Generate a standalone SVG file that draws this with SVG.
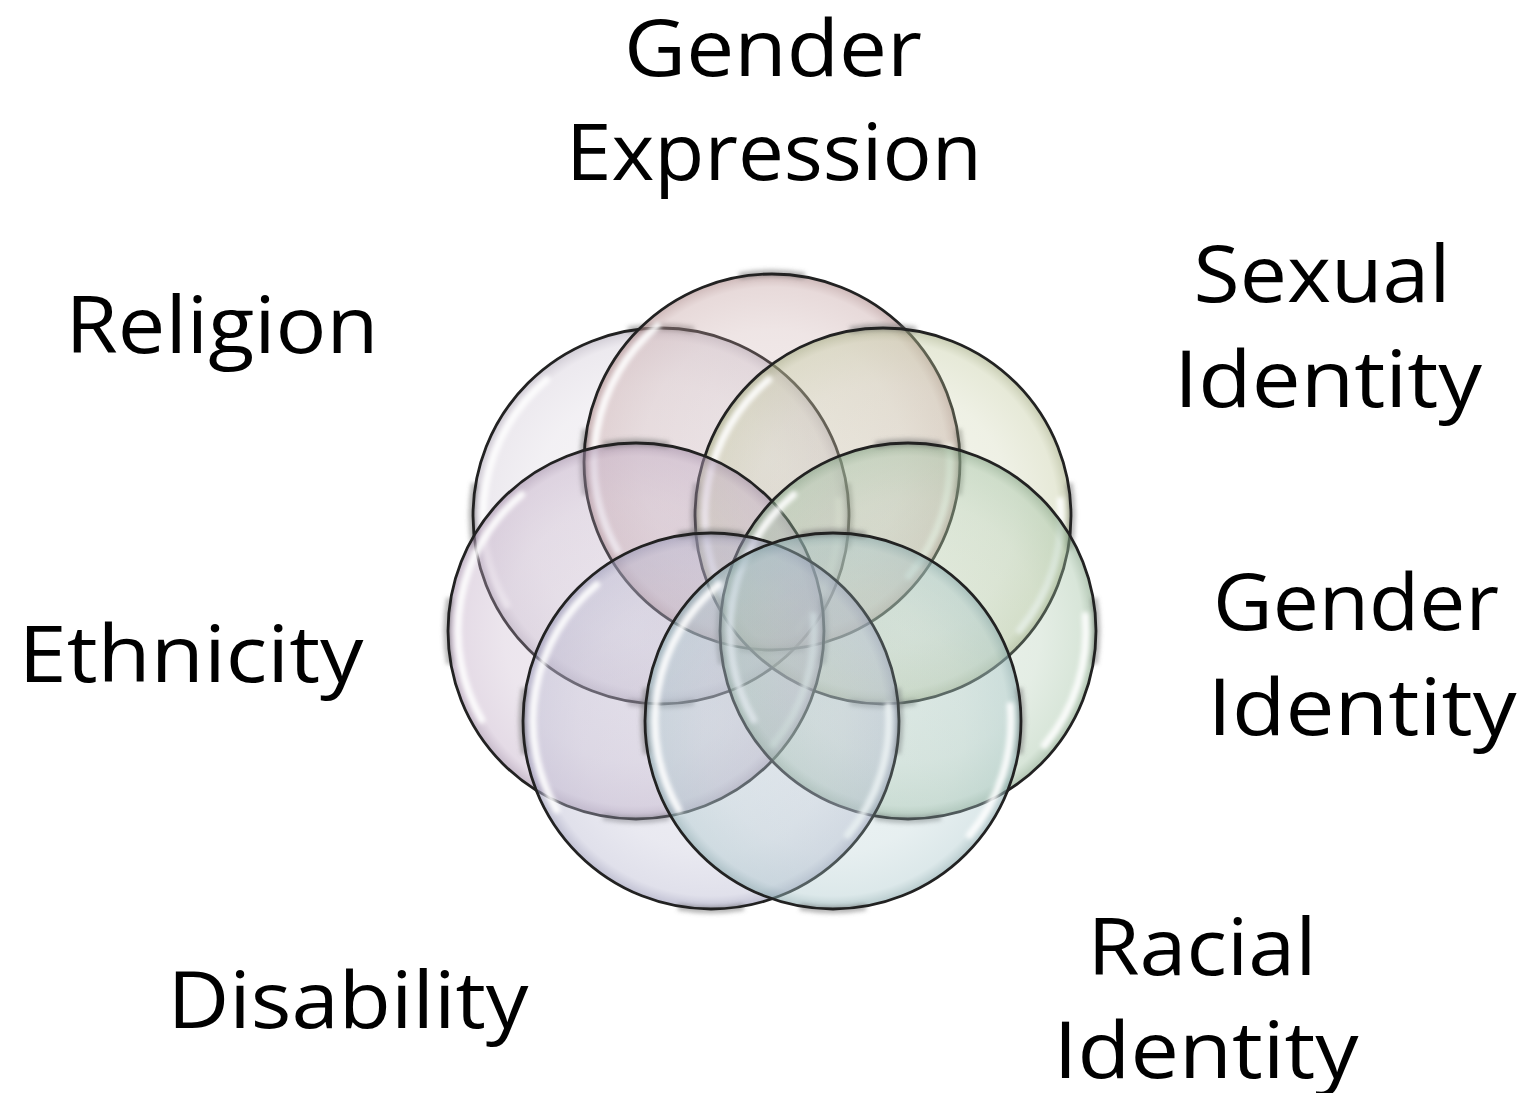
<svg xmlns="http://www.w3.org/2000/svg" xmlns:xlink="http://www.w3.org/1999/xlink" width="1524" height="1093" viewBox="0 0 1524 1093">
<style>
  .bubble-edge { fill: none; stroke: #222222; stroke-width: 2.8; }
  .label { font-family: "Open Sans", "Noto Sans", "Liberation Sans", sans-serif; font-size: 78px; fill: #000; text-anchor: middle; }
  .hl { fill: none; stroke: #ffffff; stroke-width: 7; stroke-opacity: 0.9; stroke-linecap: round; }
  .bevel { fill: none; stroke: #6e6e6e; stroke-width: 7; stroke-opacity: 0.5; }
</style>
<defs>
  <filter id="soft" x="-20%" y="-20%" width="140%" height="140%">
    <feGaussianBlur stdDeviation="2.2"/>
  </filter>
  <radialGradient id="g-ge" cx="0.5" cy="0.5" r="0.5">
    <stop offset="0" stop-color="#c4a2a2" stop-opacity="0.16"/>
    <stop offset="0.7" stop-color="#c4a2a2" stop-opacity="0.28"/>
    <stop offset="0.93" stop-color="#c4a2a2" stop-opacity="0.4"/>
    <stop offset="1" stop-color="#a98484" stop-opacity="0.58"/>
  </radialGradient>
  <radialGradient id="g-si" cx="0.5" cy="0.5" r="0.5">
    <stop offset="0" stop-color="#c2c99e" stop-opacity="0.16"/>
    <stop offset="0.7" stop-color="#c2c99e" stop-opacity="0.27"/>
    <stop offset="0.93" stop-color="#c2c99e" stop-opacity="0.4"/>
    <stop offset="1" stop-color="#9ea67a" stop-opacity="0.58"/>
  </radialGradient>
  <radialGradient id="g-gi" cx="0.5" cy="0.5" r="0.5">
    <stop offset="0" stop-color="#a2c2a4" stop-opacity="0.17"/>
    <stop offset="0.7" stop-color="#a2c2a4" stop-opacity="0.29"/>
    <stop offset="0.93" stop-color="#a2c2a4" stop-opacity="0.42"/>
    <stop offset="1" stop-color="#7a9c7c" stop-opacity="0.58"/>
  </radialGradient>
  <radialGradient id="g-ri" cx="0.5" cy="0.5" r="0.5">
    <stop offset="0" stop-color="#a8c6ca" stop-opacity="0.16"/>
    <stop offset="0.7" stop-color="#a8c6ca" stop-opacity="0.28"/>
    <stop offset="0.93" stop-color="#a8c6ca" stop-opacity="0.4"/>
    <stop offset="1" stop-color="#80a2a6" stop-opacity="0.58"/>
  </radialGradient>
  <radialGradient id="g-di" cx="0.5" cy="0.5" r="0.5">
    <stop offset="0" stop-color="#b6b6cf" stop-opacity="0.18"/>
    <stop offset="0.7" stop-color="#b6b6cf" stop-opacity="0.3"/>
    <stop offset="0.93" stop-color="#b6b6cf" stop-opacity="0.42"/>
    <stop offset="1" stop-color="#9090b0" stop-opacity="0.58"/>
  </radialGradient>
  <radialGradient id="g-et" cx="0.5" cy="0.5" r="0.5">
    <stop offset="0" stop-color="#c0aac4" stop-opacity="0.18"/>
    <stop offset="0.7" stop-color="#c0aac4" stop-opacity="0.3"/>
    <stop offset="0.93" stop-color="#c0aac4" stop-opacity="0.42"/>
    <stop offset="1" stop-color="#9c86a2" stop-opacity="0.58"/>
  </radialGradient>
  <radialGradient id="g-re" cx="0.5" cy="0.5" r="0.5">
    <stop offset="0" stop-color="#cec6d4" stop-opacity="0.16"/>
    <stop offset="0.7" stop-color="#cec6d4" stop-opacity="0.26"/>
    <stop offset="0.93" stop-color="#cec6d4" stop-opacity="0.38"/>
    <stop offset="1" stop-color="#aaa2b2" stop-opacity="0.56"/>
  </radialGradient>
  <g id="fx">
    <g filter="url(#soft)">
      <path class="hl" d="M-154.2,89 A178,178 0 0 1 -114.4,-136.4"/>
      <path class="hl" d="M177.3,-15.5 A178,178 0 0 1 136.4,114.4"/>
      <path class="bevel" d="M186.1,-32.8 A189,189 0 0 1 186.1,32.8"/>
      <path class="bevel" d="M32.8,186.1 A189,189 0 0 1 -32.8,186.1"/>
      <path class="bevel" d="M-186.1,32.8 A189,189 0 0 1 -186.1,-32.8"/>
      <path class="bevel" d="M-32.8,-186.1 A189,189 0 0 1 32.8,-186.1"/>
    </g>
    <circle class="bubble-edge" cx="0" cy="0" r="188"/>
  </g>
</defs>

<rect width="1524" height="1093" fill="#ffffff"/>

<g id="node-religion">
  <circle cx="661" cy="516" r="188" fill="url(#g-re)"/>
  <use xlink:href="#fx" x="661" y="516"/>
  <text class="label" x="222" y="353" textLength="313" lengthAdjust="spacingAndGlyphs">Religion</text>
</g>

<g id="node-gender-expression">
  <circle cx="772" cy="462" r="188" fill="url(#g-ge)"/>
  <use xlink:href="#fx" x="772" y="462"/>
  <text class="label" x="773" y="76" textLength="298" lengthAdjust="spacingAndGlyphs">Gender</text>
  <text class="label" x="774" y="180" textLength="416" lengthAdjust="spacingAndGlyphs">Expression</text>
</g>

<g id="node-sexual-identity">
  <circle cx="883" cy="516" r="188" fill="url(#g-si)"/>
  <use xlink:href="#fx" x="883" y="516"/>
  <text class="label" x="1322" y="302" textLength="257" lengthAdjust="spacingAndGlyphs">Sexual</text>
  <text class="label" x="1328" y="407" textLength="308" lengthAdjust="spacingAndGlyphs">Identity</text>
</g>

<g id="node-ethnicity">
  <circle cx="636" cy="631" r="188" fill="url(#g-et)"/>
  <use xlink:href="#fx" x="636" y="631"/>
  <text class="label" x="191" y="682" textLength="345" lengthAdjust="spacingAndGlyphs">Ethnicity</text>
</g>

<g id="node-gender-identity">
  <circle cx="908" cy="631" r="188" fill="url(#g-gi)"/>
  <use xlink:href="#fx" x="908" y="631"/>
  <text class="label" x="1356" y="630" textLength="286" lengthAdjust="spacingAndGlyphs">Gender</text>
  <text class="label" x="1362" y="735" textLength="309" lengthAdjust="spacingAndGlyphs">Identity</text>
</g>

<g id="node-disability">
  <circle cx="711" cy="721" r="188" fill="url(#g-di)"/>
  <use xlink:href="#fx" x="711" y="721"/>
  <text class="label" x="348" y="1028" textLength="361" lengthAdjust="spacingAndGlyphs">Disability</text>
</g>

<g id="node-racial-identity">
  <circle cx="833" cy="721" r="188" fill="url(#g-ri)"/>
  <use xlink:href="#fx" x="833" y="721"/>
  <text class="label" x="1202" y="975" textLength="229" lengthAdjust="spacingAndGlyphs">Racial</text>
  <text class="label" x="1206" y="1078" textLength="305" lengthAdjust="spacingAndGlyphs">Identity</text>
</g>

<g id="connectors"/>
</svg>
